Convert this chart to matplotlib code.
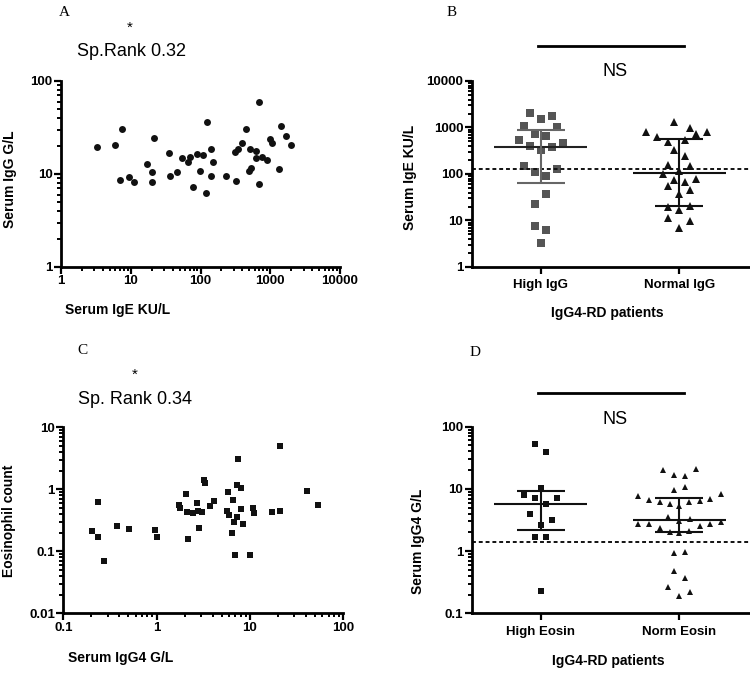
import numpy as np
import matplotlib
matplotlib.use("Agg")
import matplotlib.pyplot as plt
from matplotlib.ticker import FixedLocator, NullFormatter

plt.rcParams['font.family'] = ['Liberation Sans', 'DejaVu Sans']

# ---- panel A: serum IgE vs serum IgG ----
a_ige = [3.25, 6.0, 7.5, 6.9, 9.3, 11.3, 16.9, 19.9, 19.9, 21.8, 35, 36, 45.5, 55,
         65.5, 70.7, 88, 79, 98, 110, 122, 120, 140, 140, 151, 230, 316, 349, 319,
         389, 454, 518, 490, 535, 631, 631, 690, 690, 770, 889, 992, 1060, 1320,
         1442, 1665, 1985]
a_igg = [19.6, 20.6, 30.2, 8.7, 9.2, 8.2, 12.8, 10.4, 8.2, 24.3, 16.8, 9.4, 10.6, 14.8,
         13.5, 15.3, 16.6, 7.3, 10.8, 16.1, 35.9, 6.3, 18.7, 9.6, 13.4, 9.4, 17.3, 18.4,
         8.4, 21.3, 30.2, 18.4, 10.8, 11.5, 17.6, 14.7, 58.9, 7.8, 15.3, 14.3, 23.5,
         21.7, 11.2, 32.8, 25.6, 20.6]

# ---- panel B: serum IgE by IgG group ----
b_groups = ["High IgG", "Normal IgG"]
b_high = [2080, 1500, 1741, 1093, 1040, 724, 646, 547, 464, 400, 375, 323, 149, 128,
          112, 91, 36.6, 22.3, 7.72, 6.25, 3.33]
b_normal = [1333, 962, 789, 789, 635, 714, 495, 538, 323, 240, 154, 147, 102, 116, 79,
            73, 68, 56, 46, 36.6, 19.8, 20.2, 17.1, 11.3, 9.6, 7.0]
b_center = [380, 103]
b_upper = [884, 566]
b_lower = [64, 20.8]
b_cutoff = 126

# ---- panel C: serum IgG4 vs eosinophil count ----
c_igg4 = [0.205, 0.236, 0.236, 0.275, 0.377, 0.503, 0.96, 1.01, 1.74, 1.77, 2.09, 2.13,
          2.17, 2.48, 2.74, 2.8, 2.85, 3.2, 3.3, 3.1, 4.14, 3.75, 5.89, 6.57, 5.66, 5.96,
          7.26, 8.13, 7.43, 8.0, 7.26, 6.84, 8.53, 6.5, 6.95, 10.07, 10.9, 11.0, 17.2,
          21.1, 21.1, 40.9, 54.5]
c_eos = [0.210, 0.63, 0.168, 0.070, 0.259, 0.229, 0.218, 0.168, 0.558, 0.505, 0.83, 0.435,
         0.158, 0.42, 0.60, 0.447, 0.238, 1.42, 1.28, 0.435, 0.648, 0.538, 0.895, 0.68,
         0.447, 0.385, 1.17, 1.06, 3.05, 0.476, 0.353, 0.30, 0.275, 0.20, 0.088, 0.088,
         0.494, 0.41, 0.435, 0.447, 4.99, 0.93, 0.552]

# ---- panel D: serum IgG4 by eosinophil group ----
d_groups = ["High Eosin", "Norm Eosin"]
d_high = [52.7, 39.2, 10.5, 7.9, 7.06, 7.14, 5.65, 3.99, 3.16, 2.66, 1.71, 1.67, 0.226]
d_norm = [20.1, 16.6, 16.1, 20.7, 9.5, 10.6, 7.69, 6.63, 6.15, 5.65, 5.37, 6.15, 6.46,
          6.88, 8.19, 3.57, 3.05, 3.28, 2.73, 2.73, 2.33, 2.0, 1.95, 2.1, 2.5, 2.73, 2.97,
          0.93, 0.98, 0.479, 0.365, 0.262, 0.192, 0.222]
d_center = [5.65, 3.16]
d_upper = [9.25, 7.14]
d_lower = [2.18, 2.0]
d_cutoff = 1.38

# x offsets of each dot inside its column (scatter spread)
b_high_dx = [-0.08, 0.0, 0.08, -0.12, 0.12, -0.04, 0.04, -0.16, 0.16, -0.08, 0.08, 0.0,
             -0.12, 0.12, -0.04, 0.04, 0.04, -0.04, -0.04, 0.04, 0.0]
b_norm_dx = [-0.04, 0.08, -0.24, 0.2, -0.16, 0.12, -0.08, 0.04, -0.04, 0.04, -0.08, 0.08,
             -0.12, 0.0, 0.12, -0.04, 0.04, -0.08, 0.08, 0.0, -0.08, 0.08, 0.0, -0.08,
             0.08, 0.0]
d_high_dx = [-0.04, 0.04, 0.0, -0.12, -0.04, 0.12, 0.04, -0.08, 0.08, 0.0, -0.04, 0.04, 0.0]
d_norm_dx = [-0.12, -0.04, 0.04, 0.12, -0.04, 0.04, -0.3, -0.22, -0.14, -0.07, 0.0, 0.07,
             0.15, 0.22, 0.3, -0.08, 0.0, 0.08, -0.3, -0.22, -0.14, -0.07, 0.0, 0.07,
             0.15, 0.22, 0.3, -0.04, 0.04, -0.04, 0.04, -0.08, 0.0, 0.08]

W, H = 750, 673
fig = plt.figure(figsize=(W / 100, H / 100), dpi=100)


def add_ax(left, top, right, bottom):
    return fig.add_axes([left / W, 1 - bottom / H, (right - left) / W, (bottom - top) / H])


def ftext(x, y, s, **kw):
    fig.text(x / W, 1 - y / H, s, **kw)


def style_log(ax, axis, ticks, labels):
    target = ax.yaxis if axis == 'y' else ax.xaxis
    target.set_major_locator(FixedLocator(ticks))
    minors = [k * t for t in ticks[:-1] for k in range(2, 10)]
    target.set_minor_locator(FixedLocator(minors))
    target.set_minor_formatter(NullFormatter())
    if axis == 'y':
        ax.set_yticklabels(labels)
    else:
        ax.set_xticklabels(labels)


def base_style(ax):
    for s in ['top', 'right']:
        ax.spines[s].set_visible(False)
    for s in ['left', 'bottom']:
        ax.spines[s].set_linewidth(2)
    ax.tick_params(which='major', direction='out', length=5, width=1.6,
                   labelsize=9.5, pad=1)
    ax.tick_params(which='minor', direction='out', length=3, width=1.4)
    for lab in ax.get_xticklabels() + ax.get_yticklabels():
        lab.set_fontweight('bold')


def summary(ax, x, c, lo, hi, col_c, col_e):
    ax.hlines(c, x - 0.335, x + 0.335, color=col_c, lw=1.5, zorder=4)
    ax.hlines([lo, hi], x - 0.173, x + 0.173, color=col_e, lw=1.5, zorder=4)
    ax.vlines(x, lo, hi, color=col_e, lw=1.5, zorder=4)


# ---------- A ----------
ax = add_ax(61, 81, 340, 267)
ax.set_xscale('log')
ax.set_yscale('log')
ax.plot(a_ige, a_igg, 'o', color='#111111', ms=5, mew=0)
ax.set_xlim(1, 10000)
ax.set_ylim(1, 100)
style_log(ax, 'x', [1, 10, 100, 1000, 10000], ['1', '10', '100', '1000', '10000'])
style_log(ax, 'y', [1, 10, 100], ['1', '10', '100'])
base_style(ax)
ftext(59, 12, "A", family='Liberation Serif', fontsize=11, va='center')
ftext(130, 28, "*", fontsize=11, ha='center', va='center')
ftext(77, 52, "Sp.Rank 0.32", fontsize=13, va='center')
ftext(10, 179, "Serum IgG G/L", fontsize=10, fontweight='bold', rotation=90,
      ha='center', va='center')
ftext(65, 310, "Serum IgE KU/L", fontsize=10, fontweight='bold', va='center')

# ---------- B ----------
ax = add_ax(471.7, 81, 750, 267)
ax.set_yscale('log')
ax.plot(0 + np.array(b_high_dx), b_high, 's', color='#555555', ms=5.2, mew=0)
ax.plot(1 + np.array(b_norm_dx), b_normal, '^', color='#111111', ms=5.2, mew=0)
summary(ax, 0, b_center[0], b_lower[0], b_upper[0], '#222222', '#666666')
summary(ax, 1, b_center[1], b_lower[1], b_upper[1], '#111111', '#111111')
ax.axhline(b_cutoff, color='#111111', ls=(0, (2, 1.5)), lw=1.4)
ax.set_xlim(-0.498, 1.51)
ax.set_ylim(1, 10000)
ax.set_xticks([0, 1])
ax.set_xticklabels(b_groups)
style_log(ax, 'y', [1, 10, 100, 1000, 10000], ['1', '10', '100', '1000', '10000'])
base_style(ax)
ax.tick_params(axis='x', pad=4)
ftext(447, 12, "B", family='Liberation Serif', fontsize=11, va='center')
fig.add_artist(plt.Line2D([538 / W, 684 / W], [1 - 46 / H, 1 - 46 / H],
                          color='black', lw=2))
ftext(615, 72, "NS", fontsize=13, ha='center', va='center')
ftext(410, 177, "Serum IgE KU/L", fontsize=10, fontweight='bold', rotation=90,
      ha='center', va='center')
ftext(607, 313, "IgG4-RD patients", fontsize=10, fontweight='bold',
      ha='center', va='center')

# ---------- C ----------
ax = add_ax(63.3, 427.3, 343, 613.3)
ax.set_xscale('log')
ax.set_yscale('log')
ax.plot(c_igg4, c_eos, 's', color='#111111', ms=4.6, mew=0)
ax.set_xlim(0.1, 100)
ax.set_ylim(0.01, 10)
style_log(ax, 'x', [0.1, 1, 10, 100], ['0.1', '1', '10', '100'])
style_log(ax, 'y', [0.01, 0.1, 1, 10], ['0.01', '0.1', '1', '10'])
base_style(ax)
ftext(77, 351, "C", family='Liberation Serif', fontsize=11, va='center')
ftext(135, 375, "*", fontsize=11, ha='center', va='center')
ftext(78, 399, "Sp. Rank 0.34", fontsize=13, va='center')
ftext(9, 521, "Eosinophil count", fontsize=10, fontweight='bold', rotation=90,
      ha='center', va='center')
ftext(68, 658, "Serum IgG4 G/L", fontsize=10, fontweight='bold', va='center')

# ---------- D ----------
ax = add_ax(471.7, 426.7, 750, 613.3)
ax.set_yscale('log')
ax.plot(0 + np.array(d_high_dx), d_high, 's', color='#111111', ms=4.8, mew=0)
ax.plot(1 + np.array(d_norm_dx), d_norm, '^', color='#111111', ms=5.0, mew=0)
summary(ax, 0, d_center[0], d_lower[0], d_upper[0], '#111111', '#111111')
summary(ax, 1, d_center[1], d_lower[1], d_upper[1], '#111111', '#111111')
ax.axhline(d_cutoff, color='#111111', ls=(0, (2, 1.5)), lw=1.4)
ax.set_xlim(-0.498, 1.51)
ax.set_ylim(0.1, 100)
ax.set_xticks([0, 1])
ax.set_xticklabels(d_groups)
style_log(ax, 'y', [0.1, 1, 10, 100], ['0.1', '1', '10', '100'])
base_style(ax)
ax.tick_params(axis='x', pad=4)
ftext(470, 353, "D", family='Liberation Serif', fontsize=11, va='center')
fig.add_artist(plt.Line2D([538 / W, 684 / W], [1 - 393 / H, 1 - 393 / H],
                          color='black', lw=2))
ftext(615, 419, "NS", fontsize=13, ha='center', va='center')
ftext(418, 541, "Serum IgG4 G/L", fontsize=10, fontweight='bold', rotation=90,
      ha='center', va='center')
ftext(608, 661, "IgG4-RD patients", fontsize=10, fontweight='bold',
      ha='center', va='center')

fig.savefig("out.png", dpi=100)
